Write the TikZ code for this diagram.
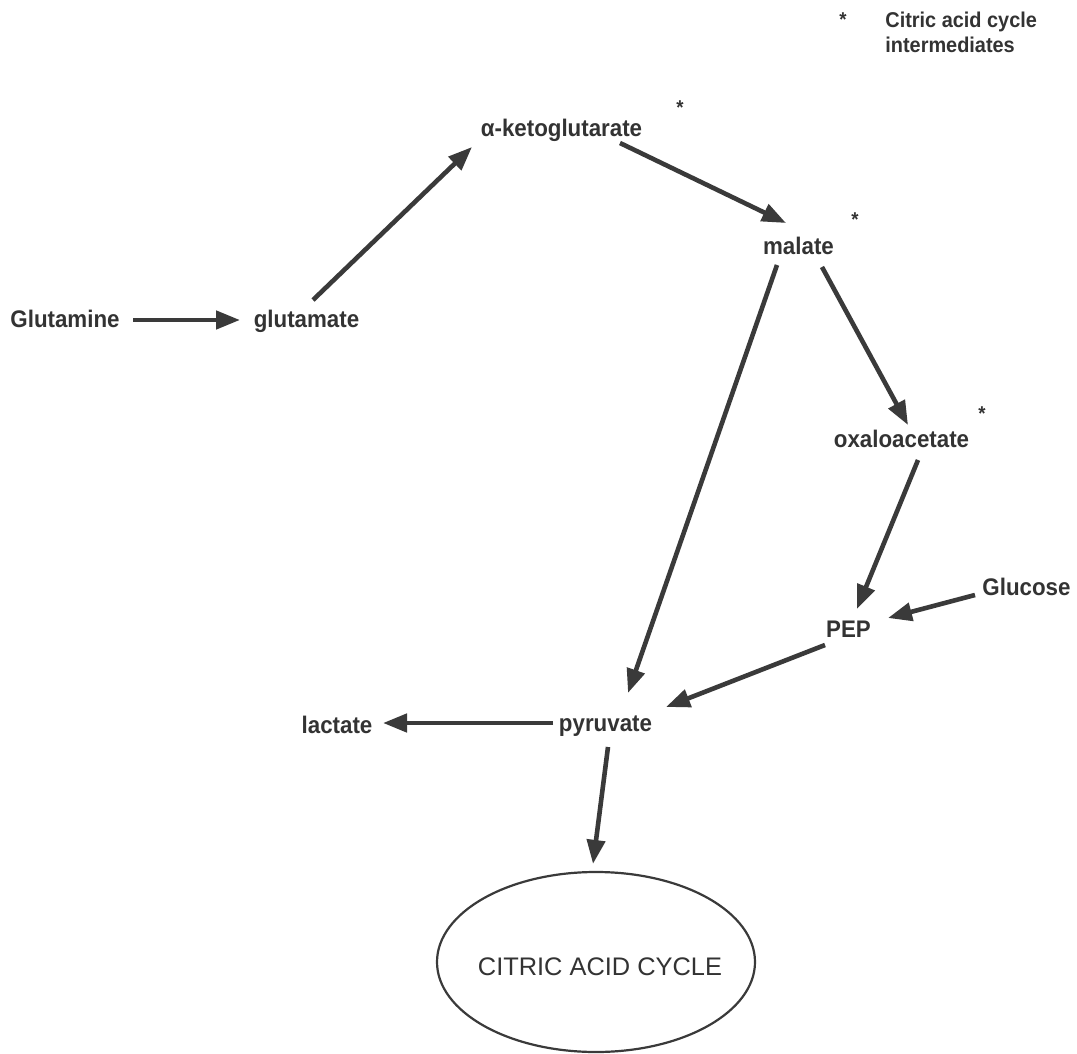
\documentclass[tikz,border=0pt]{standalone}
\usepackage{fontspec}
\setmainfont{Liberation Sans}
\newfontfamily\labfont{Liberation Sans}[UprightFont=*-Bold, FakeStretch=0.93]
\newfontfamily\regfont{Liberation Sans}
\usetikzlibrary{arrows.meta,calc,shapes.geometric}
\definecolor{ink}{HTML}{333333}
\definecolor{arr}{HTML}{3A3A3A}
\begin{document}
\begin{tikzpicture}[x=0.5pt,y=-0.5pt,
  lab/.style={font=\labfont\fontsize{12pt}{14pt}\selectfont, text=ink, inner sep=0pt, anchor=base},
  legtext/.style={font=\labfont\fontsize{10.7pt}{12pt}\selectfont, text=ink, inner sep=0pt, anchor=base west},
  starmark/.style={font=\labfont\fontsize{10pt}{12pt}\selectfont, text=ink, inner sep=0pt, anchor=base},
  flow/.style={draw=arr, line width=2.3pt, -{Triangle[length=12pt,width=9pt]}}]
\fill[white] (0,0) rectangle (1077,1054);
\useasboundingbox (0,0) rectangle (1077,1054);

% legend
\node[starmark] (s0) at (843,27) {*};
\node[legtext] (leg1) at (885,28) {Citric acid cycle};
\node[legtext] (leg2) at (885,53) {intermediates};

% labels
\node[lab] (glnn) at (65,327) {Glutamine};
\node[lab] (glu) at (306.5,327) {glutamate};
\node[lab] (akg) at (561.5,137) {α-ketoglutarate};
\node[lab] (mal) at (798.5,255) {malate};
\node[lab] (oaa) at (901.5,447) {oxaloacetate};
\node[lab] (glc) at (1026.5,595) {Glucose};
\node[lab] (pep) at (848.5,637) {PEP};
\node[lab] (lac) at (337,733) {lactate};
\node[lab] (pyr) at (605.5,731) {pyruvate};

% asterisks
\node[starmark] (s1) at (680,115) {*};
\node[starmark] (s2) at (855,227) {*};
\node[starmark] (s3) at (982,420) {*};

% citric acid cycle
\node[draw=arr, line width=1.1pt, ellipse, minimum width=159pt, minimum height=90pt, inner sep=0pt] (tca) at (596,962) {};
\node[lab, font=\regfont\fontsize{12.7pt}{15pt}\selectfont] (tcat) at (600,975) {CITRIC ACID CYCLE};

% connectors
\draw[flow] ($(glnn.base)+(68,-7)$) -- ($(glu.base)+(-66.5,-7)$);
\draw[flow] ($(glu.base)+(6.5,-27)$) -- ($(akg.base)+(-89.5,10)$);
\draw[flow] ($(akg.base)+(58.5,6)$) -- ($(mal.base)+(-12.5,-32)$);
\draw[flow] ($(mal.base)+(-21.5,10)$) -- ($(pyr.base)+(22.5,-38)$);
\draw[flow] ($(mal.base)+(23.5,12)$) -- ($(oaa.base)+(6.5,-22)$);
\draw[flow] ($(oaa.base)+(16.5,13)$) -- ($(pep.base)+(8.5,-28)$);
\draw[flow] ($(glc.base)+(-51.5,0)$) -- ($(pep.base)+(39.5,-19)$);
\draw[flow] ($(pep.base)+(-23.5,8)$) -- ($(pyr.base)+(60.5,-24)$);
\draw[flow] ($(pyr.base)+(-52.5,-8)$) -- ($(lac.base)+(46,-10)$);
\draw[flow] ($(pyr.base)+(2.5,16)$) -- ($(tca.north)+(-3,-7)$);
\end{tikzpicture}
\end{document}
